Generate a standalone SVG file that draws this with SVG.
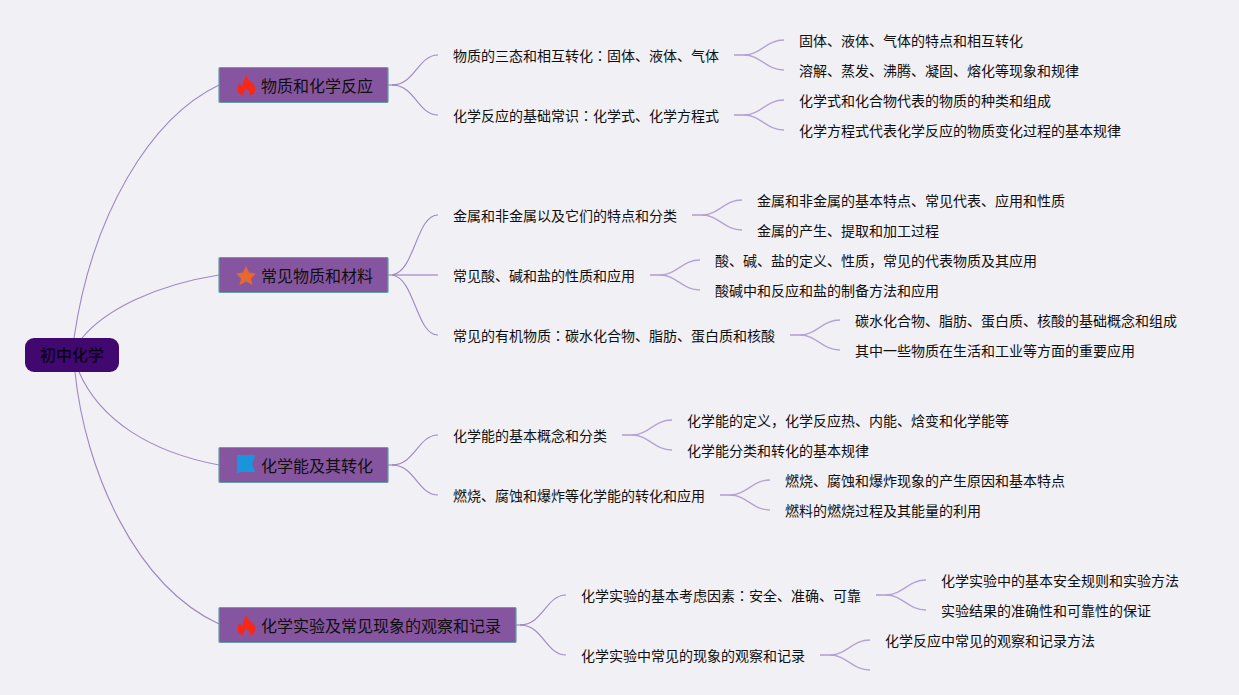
<svg xmlns="http://www.w3.org/2000/svg" width="1239" height="695" viewBox="0 0 1239 695">
<style>
text{font-family:"Noto Sans CJK SC","Liberation Sans",sans-serif;fill:#0f0f0f;font-size:14px}
.c{font-family:"Noto Sans CJK JP","Noto Sans CJK SC",sans-serif}
.t1{font-size:16px}
.root{font-size:16px;font-weight:500;fill:#0a0318}
.box{fill:#8655a0;stroke:#62a0a6;stroke-width:1.2}
#connectors path{fill:none;stroke:#9f88c2;stroke-width:1.1}
#connectors path.stem{stroke:#c2b0da;stroke-width:2}
#c3 path{stroke:#b5a2d4;stroke-width:1.3}
</style>
<rect width="1239" height="695" fill="#f1f0f5"/>
<g id="connectors">
<path d="M74,338C92,215 150,118 219,85"/>
<path d="M82,338C105,310 155,285 219,275"/>
<path d="M79,372C100,420 150,452 219,465"/>
<path d="M75,372C85,470 135,585 219,624"/>
<path class="stem" d="M388,85H396"/>
<path d="M392,85C415,85 418,55 438,55"/>
<path d="M392,85C415,85 418,115 438,115"/>
<path class="stem" d="M388,275H438"/>
<path d="M392,275C415,272 416,215 438,215"/>
<path d="M392,275C415,278 416,335 438,335"/>
<path class="stem" d="M388,465H396"/>
<path d="M392,465C415,465 418,435 438,435"/>
<path d="M392,465C415,465 418,495 438,495"/>
<path class="stem" d="M516,625H524"/>
<path d="M520,625C543,625 546,595 566,595"/>
<path d="M520,625C543,625 546,655 566,655"/>
<g id="c3">
<path class="stem" d="M734,55H744"/><path d="M744,55C761,55 766,40 784,40"/><path d="M744,55C761,55 766,70 784,70"/>
<path class="stem" d="M734,115H744"/><path d="M744,115C761,115 766,100 784,100"/><path d="M744,115C761,115 766,130 784,130"/>
<path class="stem" d="M692,215H702"/><path d="M702,215C719,215 724,200 742,200"/><path d="M702,215C719,215 724,230 742,230"/>
<path class="stem" d="M650,275H660"/><path d="M660,275C677,275 682,260 700,260"/><path d="M660,275C677,275 682,290 700,290"/>
<path class="stem" d="M790,335H800"/><path d="M800,335C817,335 822,320 840,320"/><path d="M800,335C817,335 822,350 840,350"/>
<path class="stem" d="M622,435H632"/><path d="M632,435C649,435 654,420 672,420"/><path d="M632,435C649,435 654,450 672,450"/>
<path class="stem" d="M720,495H730"/><path d="M730,495C747,495 752,480 770,480"/><path d="M730,495C747,495 752,510 770,510"/>
<path class="stem" d="M876,595H886"/><path d="M886,595C903,595 908,580 926,580"/><path d="M886,595C903,595 908,610 926,610"/>
<path class="stem" d="M820,655H830"/><path d="M830,655C847,655 852,640 870,640"/><path d="M830,655C847,655 852,670 870,670"/>
</g>
</g>
<defs>
<path id="flame" d="M0,-10.500C1,-6 4,-5 6.500,-2C9.500,1 9.500,5.500 7,8.500L3,10C4,7 2.500,5 0,3.500C-2.500,5 -4,7 -3,10L-7,8.500C-9.500,5.500 -9.500,1 -7,-2.500C-6,-0.500 -5,0.500 -4,0.500C-4,-3 -2,-7 0,-10.500Z"/>
</defs>
<g id="root"><rect x="25" y="338" width="94" height="34" rx="9" fill="#41086f"/><text class="root" x="40" y="361">初中化学</text></g>
<g id="n1"><rect class="box" x="219" y="67.500" width="169" height="35" rx="1"/><use href="#flame" x="246.500" y="85.500" fill="#f5291a"/><text class="t1" x="261" y="91.500">物质和化学反应</text></g>
<g id="n2"><rect class="box" x="219" y="257.500" width="169" height="35" rx="1"/><path d="M246,266L249,272.500L256,273.500L251,278.500L252.500,285L246,281.500L239.500,285L241,278.500L236,273.500L243,272.500Z" fill="#e8672f"/><text class="t1" x="261" y="281.500">常见物质和材料</text></g>
<g id="n3"><rect class="box" x="219" y="447.500" width="169" height="35" rx="1"/><path d="M237,455H255.500L252,464L255.500,472H240L237,473.500Z" fill="#1a94dc"/><text class="t1" x="261" y="471.500">化学能及其转化</text></g>
<g id="n4"><rect class="box" x="219" y="607.500" width="297" height="35" rx="1"/><use href="#flame" x="246.500" y="625.500" fill="#f5291a"/><text class="t1" x="261" y="631.500">化学实验及常见现象的观察和记录</text></g>
<g id="n11"><text x="453" y="61">物质的三态和相互转化<tspan class="c">：</tspan>固体、液体、气体</text></g>
<g id="n12"><text x="453" y="121">化学反应的基础常识<tspan class="c">：</tspan>化学式、化学方程式</text></g>
<g id="n21"><text x="453" y="221">金属和非金属以及它们的特点和分类</text></g>
<g id="n22"><text x="453" y="281">常见酸、碱和盐的性质和应用</text></g>
<g id="n23"><text x="453" y="341">常见的有机物质<tspan class="c">：</tspan>碳水化合物、脂肪、蛋白质和核酸</text></g>
<g id="n31"><text x="453" y="441">化学能的基本概念和分类</text></g>
<g id="n32"><text x="453" y="501">燃烧、腐蚀和爆炸等化学能的转化和应用</text></g>
<g id="n41"><text x="581" y="601">化学实验的基本考虑因素<tspan class="c">：</tspan>安全、准确、可靠</text></g>
<g id="n42"><text x="581" y="661">化学实验中常见的现象的观察和记录</text></g>
<g id="n111"><text x="799" y="46">固体、液体、气体的特点和相互转化</text></g>
<g id="n112"><text x="799" y="76">溶解、蒸发、沸腾、凝固、熔化等现象和规律</text></g>
<g id="n121"><text x="799" y="106">化学式和化合物代表的物质的种类和组成</text></g>
<g id="n122"><text x="799" y="136">化学方程式代表化学反应的物质变化过程的基本规律</text></g>
<g id="n211"><text x="757" y="206">金属和非金属的基本特点、常见代表、应用和性质</text></g>
<g id="n212"><text x="757" y="236">金属的产生、提取和加工过程</text></g>
<g id="n221"><text x="715" y="266">酸、碱、盐的定义、性质，常见的代表物质及其应用</text></g>
<g id="n222"><text x="715" y="296">酸碱中和反应和盐的制备方法和应用</text></g>
<g id="n231"><text x="855" y="326">碳水化合物、脂肪、蛋白质、核酸的基础概念和组成</text></g>
<g id="n232"><text x="855" y="356">其中一些物质在生活和工业等方面的重要应用</text></g>
<g id="n311"><text x="687" y="426">化学能的定义，化学反应热、内能、焓变和化学能等</text></g>
<g id="n312"><text x="687" y="456">化学能分类和转化的基本规律</text></g>
<g id="n321"><text x="785" y="486">燃烧、腐蚀和爆炸现象的产生原因和基本特点</text></g>
<g id="n322"><text x="785" y="516">燃料的燃烧过程及其能量的利用</text></g>
<g id="n411"><text x="941" y="586">化学实验中的基本安全规则和实验方法</text></g>
<g id="n412"><text x="941" y="616">实验结果的准确性和可靠性的保证</text></g>
<g id="n421"><text x="885" y="646">化学反应中常见的观察和记录方法</text></g>
</svg>
